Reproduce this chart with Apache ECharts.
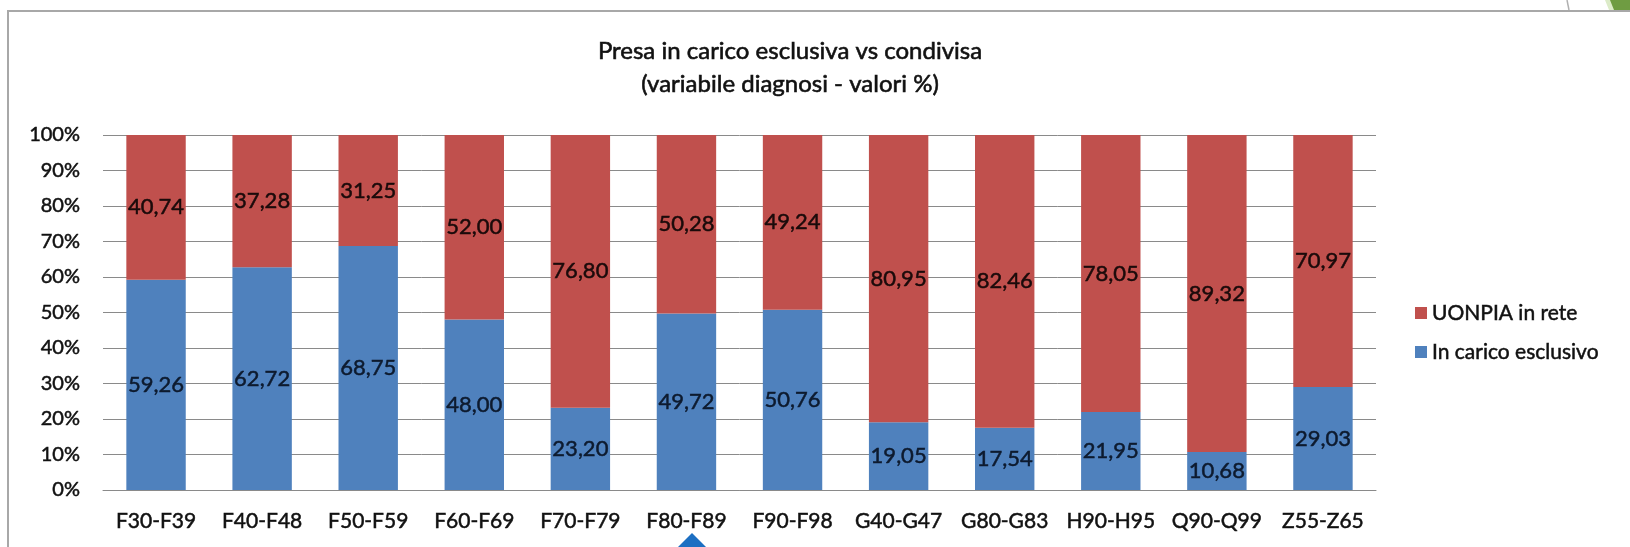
<!DOCTYPE html>
<html>
<head>
<meta charset="utf-8">
<title>Presa in carico esclusiva vs condivisa</title>
<script src="https://cdn.jsdelivr.net/npm/echarts@6/dist/echarts.min.js"></script>
<style>
  html, body { margin: 0; padding: 0; background: #ffffff; }
  #chart { width: 1630px; height: 547px; }
</style>
</head>
<body>
<div id="chart"></div>
<script>
// Diagnostic groups (ICD-10 ranges)
const categories = ['F30-F39', 'F40-F48', 'F50-F59', 'F60-F69', 'F70-F79', 'F80-F89',
                    'F90-F98', 'G40-G47', 'G80-G83', 'H90-H95', 'Q90-Q99', 'Z55-Z65'];

// Share of cases handled exclusively by the service (%)
const inCaricoEsclusivo = [59.26, 62.72, 68.75, 48.00, 23.20, 49.72, 50.76, 19.05, 17.54, 21.95, 10.68, 29.03];

// Share of cases handled together with the network (%)
const uonpiaInRete = [40.74, 37.28, 31.25, 52.00, 76.80, 50.28, 49.24, 80.95, 82.46, 78.05, 89.32, 70.97];

const seriesNames = ['UONPIA in rete', 'In carico esclusivo'];
const titleLines = ['Presa in carico esclusiva vs condivisa', '(variabile diagnosi - valori %)'];

const FONT = 'Lato, "Open Sans", sans-serif';
const fmt = v => Number(v).toFixed(2).replace('.', ',');

// slightly heavier glyphs: a thin outline in the text colour
const heavy = (color, w) => ({ color: color, textBorderColor: color, textBorderWidth: w });

const chart = echarts.init(document.getElementById('chart'), null, { renderer: 'canvas' });

chart.setOption({
  animation: false,
  backgroundColor: '#ffffff',
  title: {
    text: titleLines.join('\n'),
    left: 785,
    top: 30,
    textAlign: 'center',
    textStyle: Object.assign({ fontFamily: FONT, fontSize: 24, fontWeight: 'normal', lineHeight: 33 },
                             heavy('#111111', 0.6))
  },
  legend: {
    orient: 'vertical',
    left: 1410,
    top: 297,
    itemWidth: 12,
    itemHeight: 12,
    itemGap: 17,
    icon: 'rect',
    data: seriesNames,
    textStyle: Object.assign({ fontFamily: FONT, fontSize: 21, lineHeight: 22 }, heavy('#111111', 0.5))
  },
  grid: { left: 103, right: 254, top: 135, bottom: 57, containLabel: false },
  xAxis: {
    type: 'category',
    data: categories,
    axisTick: { show: false },
    axisLine: { lineStyle: { color: '#8a8a8a', width: 1 } },
    axisLabel: Object.assign({ fontFamily: FONT, fontSize: 21, margin: 21, interval: 0 }, heavy('#111111', 0.5))
  },
  yAxis: {
    type: 'value',
    min: 0,
    max: 100,
    interval: 10,
    axisLine: { show: false },
    axisTick: { show: false },
    splitLine: { lineStyle: { color: '#8a8a8a', width: 1 } },
    axisLabel: Object.assign({ fontFamily: FONT, fontSize: 20, margin: 23, formatter: '{value}%' },
                             heavy('#111111', 0.5))
  },
  series: [
    {
      name: 'In carico esclusivo',
      type: 'bar',
      stack: 'tot',
      barWidth: '56%',
      data: inCaricoEsclusivo,
      itemStyle: { color: '#4F81BD' },
      label: Object.assign({
        show: true, position: 'inside',
        fontFamily: FONT, fontSize: 22,
        formatter: p => fmt(p.value)
      }, heavy('#0d1a2e', 0.5))
    },
    {
      name: 'UONPIA in rete',
      type: 'bar',
      stack: 'tot',
      barWidth: '56%',
      data: uonpiaInRete,
      itemStyle: { color: '#C0504D' },
      label: Object.assign({
        show: true, position: 'inside',
        fontFamily: FONT, fontSize: 22,
        formatter: p => fmt(p.value)
      }, heavy('#1a0a0a', 0.5))
    }
  ],
  graphic: [
    // chart frame (left and top edges)
    { type: 'polyline', silent: true,
      shape: { points: [[8, 560], [8, 11], [1640, 11]] },
      style: { stroke: '#a8a8a8', lineWidth: 2, fill: null } },
    // slide decoration, top right
    { type: 'line', silent: true,
      shape: { x1: 1567, y1: 0, x2: 1569, y2: 10 },
      style: { stroke: '#b0b0b0', lineWidth: 1.5 } },
    { type: 'polygon', silent: true,
      shape: { points: [[1605, 0], [1630, 0], [1630, 10], [1609, 10]] },
      style: { fill: '#dcebc8' } },
    { type: 'polygon', silent: true,
      shape: { points: [[1610, 0], [1630, 0], [1630, 10], [1614, 10]] },
      style: { fill: '#6f9c42' } },
    // pointer marker below the axis
    { type: 'polygon', silent: true,
      shape: { points: [[692, 533], [678, 547], [706, 547]] },
      style: { fill: '#1c6fc2' } }
  ]
});
</script>
</body>
</html>
